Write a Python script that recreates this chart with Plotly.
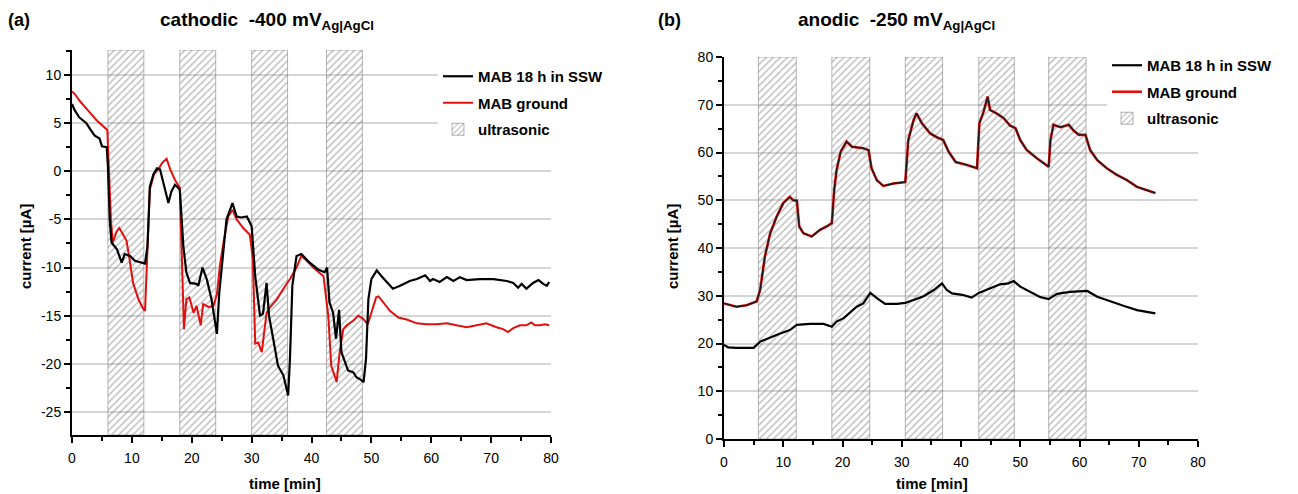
import plotly.graph_objects as go

# ---------------- data: panel (a) cathodic ----------------
t_a_ssw = [0, 0.4, 1.2, 2.4, 3.0, 3.8, 4.6, 5.0, 5.8, 6.0,
           6.3, 6.6, 7.5, 8.3, 8.8, 9.7, 10.5, 11.6, 12.2, 12.6,
           13.0, 13.6, 14.2, 14.7, 15.5, 16.1, 16.6, 17.2, 18.0, 18.6,
           19.1, 19.7, 20.8, 21.1, 21.8, 22.5, 23.3, 24.2, 24.6, 25.2,
           25.8, 26.8, 27.5, 28.3, 29.2, 30.0, 30.6, 31.4, 31.9, 32.5,
           32.9, 33.6, 34.4, 35.3, 36.1, 36.4, 36.8, 37.5, 38.3, 39.7,
           41.1, 42.2, 42.6, 43.0, 43.6, 44.1, 44.6, 45.0, 46.1, 47.0,
           47.5, 48.1, 48.7, 49.1, 49.5, 50.0, 50.9, 51.7, 52.8, 53.6,
           54.8, 56.4, 57.6, 59.0, 59.8, 60.3, 61.4, 62.6, 63.7, 64.8,
           65.9, 68.1, 70.4, 72.6, 73.7, 74.5, 75.1, 75.9, 77.0, 77.9,
           78.7, 79.3, 79.7]
i_a_ssw = [7.0, 6.4, 5.6, 5.0, 4.4, 3.7, 3.4, 2.6, 2.5, 0.5,
           -5.0, -7.4, -8.1, -9.5, -8.6, -8.8, -9.3, -9.5, -9.6, -7.8,
           -1.6, -0.3, 0.3, 0.2, -1.9, -3.3, -2.1, -1.4, -1.9, -7.8,
           -10.5, -11.6, -11.7, -11.9, -10.0, -11.2, -13.3, -16.9, -12.6, -8.4,
           -5.0, -3.3, -4.7, -4.8, -4.7, -5.7, -10.9, -15.0, -14.8, -11.6,
           -15.0, -17.4, -20.2, -21.2, -23.3, -19.5, -11.9, -8.8, -8.6, -9.5,
           -10.2, -10.5, -10.0, -13.6, -14.7, -17.4, -14.4, -18.8, -20.7, -20.9,
           -21.4, -21.6, -21.9, -19.5, -13.3, -11.2, -10.3, -10.9, -11.6, -12.2,
           -11.9, -11.4, -11.2, -10.8, -11.4, -11.2, -11.5, -11.0, -11.4, -11.0,
           -11.3, -11.2, -11.2, -11.4, -11.6, -12.1, -11.7, -12.2, -11.6, -11.3,
           -11.7, -11.9, -11.5]

t_a_ground = [0, 0.5, 1.3, 2.2, 3.0, 4.1, 5.2, 5.9, 6.1, 6.5,
              6.8, 7.5, 7.9, 8.6, 9.1, 9.6, 10.2, 11.1, 11.9, 12.2,
              12.5, 13.0, 13.7, 14.4, 15.1, 15.8, 16.4, 17.2, 18.0, 18.3,
              18.7, 19.1, 19.6, 20.3, 20.8, 21.5, 21.9, 22.8, 23.6, 24.2,
              24.7, 25.3, 26.1, 26.8, 27.5, 28.6, 29.7, 30.2, 30.6, 31.1,
              31.7, 32.1, 32.5, 33.1, 34.2, 35.3, 36.4, 37.5, 38.3, 39.2,
              40.3, 42.0, 42.8, 43.3, 44.2, 44.7, 45.3, 45.9, 47.0, 47.8,
              48.6, 49.4, 50.0, 50.8, 51.2, 52.0, 53.1, 54.5, 55.9, 57.6,
              59.2, 60.9, 62.6, 64.2, 65.9, 67.6, 69.2, 70.9, 72.0, 72.8,
              73.7, 74.8, 75.9, 76.7, 77.3, 78.1, 79.0, 79.7]
i_a_ground = [8.3, 8.0, 7.3, 6.7, 6.1, 5.3, 4.7, 4.3, 1.2, -5.0,
              -7.4, -6.2, -5.9, -6.7, -7.2, -9.1, -11.6, -13.3, -14.3, -14.5,
              -9.8, -1.9, -0.3, 0.2, 0.9, 1.3, 0.2, -0.9, -1.7, -9.1,
              -16.4, -13.3, -13.1, -14.7, -14.0, -16.0, -13.8, -14.1, -14.0, -12.8,
              -9.8, -7.4, -4.7, -4.0, -5.0, -5.9, -6.6, -9.1, -17.9, -17.8,
              -18.8, -16.7, -14.7, -14.1, -13.3, -12.2, -11.2, -10.0, -8.8, -9.3,
              -10.0, -10.9, -15.0, -20.2, -21.9, -18.8, -16.4, -16.0, -15.5, -15.0,
              -15.3, -15.9, -14.7, -13.1, -13.0, -13.6, -14.5, -15.2, -15.4, -15.8,
              -15.9, -15.9, -15.8, -16.0, -16.2, -16.0, -15.8, -16.2, -16.4, -16.7,
              -16.3, -16.0, -16.0, -15.7, -16.0, -16.0, -15.9, -16.0]

us_a_start = [6.0, 18.0, 30.0, 42.5]
us_a_end = [12.0, 24.0, 36.0, 48.5]

# ---------------- data: panel (b) anodic ----------------
t_b_ssw = [0, 0.7, 2.1, 5.0, 6.1, 7.8, 9.5, 11.1, 12.3, 14.5,
           16.8, 18.2, 19.0, 20.2, 21.3, 22.4, 23.5, 24.7, 25.8, 27.2,
           29.2, 30.6, 32.0, 33.7, 35.4, 36.8, 37.6, 38.5, 40.2, 41.8,
           43.0, 44.9, 46.6, 48.0, 48.9, 50.0, 51.7, 53.4, 54.8, 56.2,
           58.4, 61.3, 63.0, 65.2, 67.4, 69.7, 72.8]
i_b_ssw = [19.7, 19.2, 19.1, 19.1, 20.4, 21.3, 22.1, 22.8, 23.9, 24.1,
           24.1, 23.5, 24.6, 25.3, 26.5, 27.7, 28.4, 30.6, 29.5, 28.3,
           28.3, 28.5, 29.1, 29.9, 31.2, 32.6, 31.2, 30.5, 30.2, 29.6,
           30.6, 31.6, 32.4, 32.6, 33.1, 31.9, 30.8, 29.7, 29.3, 30.4,
           30.8, 31.0, 29.8, 28.8, 27.9, 27.0, 26.3]

t_b_ground = [0, 2.1, 3.8, 5.5, 6.1, 6.9, 7.8, 8.9, 10.0, 11.1,
              11.7, 12.3, 12.7, 13.4, 14.8, 16.2, 17.3, 18.2, 18.6, 19.0,
              19.7, 20.7, 21.6, 22.4, 23.5, 24.4, 24.9, 25.8, 26.9, 28.6,
              30.6, 31.1, 32.0, 32.5, 33.4, 34.8, 35.9, 37.0, 37.9, 39.1,
              41.0, 42.7, 43.1, 43.8, 44.5, 44.9, 46.0, 47.2, 48.3, 49.2,
              50.0, 51.1, 52.8, 54.8, 55.1, 55.6, 56.8, 58.2, 59.0, 59.9,
              61.0, 61.8, 63.0, 64.6, 66.3, 68.0, 69.7, 71.4, 72.8]
i_b_ground = [28.4, 27.7, 28.0, 28.8, 31.2, 38.2, 43.1, 46.6, 49.4, 50.7,
              50.0, 49.9, 44.5, 43.1, 42.4, 43.8, 44.5, 45.2, 52.1, 56.3,
              60.2, 62.3, 61.2, 61.1, 60.9, 60.5, 56.7, 54.2, 53.0, 53.5,
              53.8, 62.6, 66.8, 68.2, 66.1, 64.0, 63.2, 62.6, 60.2, 58.0,
              57.4, 56.7, 66.1, 68.5, 71.7, 68.9, 68.2, 67.2, 65.6, 65.1,
              62.6, 60.5, 58.8, 57.0, 62.6, 65.8, 65.3, 65.8, 64.6, 63.7,
              63.7, 60.5, 58.4, 56.7, 55.3, 54.2, 52.8, 52.1, 51.5]

us_b_start = [5.8, 18.2, 30.6, 43.0, 54.8]
us_b_end = [12.2, 24.6, 36.9, 49.0, 61.1]

# ---------------- labels / ranges ----------------
y_range_a = [-27.4, 12.6]
y_ticks_a = [-25, -20, -15, -10, -5, 0, 5, 10]
y_ticktext_a = ["-25", "-20", "-15", "-10", "-5", "0", "5", "10"]
y_range_b = [0, 80]
x_range = [0, 80]
name_ssw = "MAB 18 h in SSW"
name_ground = "MAB ground"
name_us = "ultrasonic"

# page has an 8 px body margin: figure is placed at (8, 8)
OFF = 8
W, H = 1298 - OFF, 494 - OFF
FONT = "Liberation Sans, Arial, sans-serif"
RED = "#e01010"


def px(x):
    return (x - OFF) / W


def py(y):
    return 1 - (y - OFF) / H


fig = go.Figure()


def band_trace(starts, ends, yr, xa, ya, leg):
    centers = [(s + e) / 2 for s, e in zip(starts, ends)]
    widths = [e - s for s, e in zip(starts, ends)]
    return go.Bar(
        x=centers, y=[yr[1] - yr[0]] * len(centers), base=[yr[0]] * len(centers),
        width=widths, xaxis=xa, yaxis=ya, name=name_us, legend=leg, legendrank=3,
        legendgroup="us",
        marker=dict(color="rgba(0,0,0,0)",
                    line=dict(color="rgba(130,130,130,0.6)", width=1),
                    pattern=dict(shape="/", fgcolor="#6a6a6a", bgcolor="rgba(0,0,0,0)",
                                 size=5, solidity=0.25, fillmode="overlay")),
        hoverinfo="skip")


# panel (a)
fig.add_trace(band_trace(us_a_start, us_a_end, y_range_a, "x", "y", "legend"))
fig.add_trace(go.Scatter(x=t_a_ground, y=i_a_ground, mode="lines", name=name_ground,
                         line=dict(color=RED, width=2), xaxis="x", yaxis="y",
                         legend="legend", legendrank=2, legendgroup="gr"))
fig.add_trace(go.Scatter(x=t_a_ssw, y=i_a_ssw, mode="lines", name=name_ssw,
                         line=dict(color="black", width=2.2), xaxis="x", yaxis="y",
                         legend="legend", legendrank=1, legendgroup="ssw"))

# panel (b)
fig.add_trace(band_trace(us_b_start, us_b_end, y_range_b, "x2", "y2", "legend2"))
fig.add_trace(go.Scatter(x=t_b_ground, y=i_b_ground, mode="lines", name=name_ground,
                         line=dict(color=RED, width=2.6), xaxis="x2", yaxis="y2",
                         legend="legend2", legendrank=2, legendgroup="gr"))
fig.add_trace(go.Scatter(x=t_b_ground, y=i_b_ground, mode="lines", name=name_ground,
                         line=dict(color="#1a1a1a", width=1.4), xaxis="x2", yaxis="y2",
                         showlegend=False, hoverinfo="skip", legendgroup="gr"))
fig.add_trace(go.Scatter(x=t_b_ssw, y=i_b_ssw, mode="lines", name=name_ssw,
                         line=dict(color="black", width=2.2), xaxis="x2", yaxis="y2",
                         legend="legend2", legendrank=1, legendgroup="ssw"))

tickfont = dict(family=FONT, size=14, color="black")


def xax(domain, anchor):
    return dict(domain=domain, anchor=anchor, range=x_range, showline=True,
                linecolor="black", linewidth=2, ticks="outside", ticklen=6,
                tickwidth=2, tickcolor="black", tick0=0, dtick=10,
                minor=dict(ticks="outside", dtick=5, ticklen=4, tickwidth=1.5,
                           tickcolor="black"),
                showgrid=False, zeroline=False, tickfont=tickfont,
                ticklabelstandoff=3, automargin=False)


def yax(domain, anchor, rng, mdtick, dtick=None, tickvals=None, ticktext=None):
    d = dict(domain=domain, anchor=anchor, range=rng, showline=True,
             linecolor="black", linewidth=2, ticks="outside", ticklen=6,
             tickwidth=2, tickcolor="black",
             minor=dict(ticks="outside", tickmode="linear", tick0=0, dtick=mdtick,
                        ticklen=4, tickwidth=1.5, tickcolor="black", showgrid=False),
             showgrid=True, gridcolor="#d6d6d6", gridwidth=1.5,
             zeroline=False, tickfont=tickfont, ticklabelstandoff=0,
             automargin=False)
    if tickvals is not None:
        d.update(tickmode="array", tickvals=tickvals, ticktext=ticktext)
    else:
        d.update(tick0=0, dtick=dtick)
    return d


legfont = dict(family=FONT, size=15, color="black", weight="bold")

ann = []


def text(x, y, s, size, xanchor="left", yanchor="middle", angle=0, bold=True):
    ann.append(dict(x=px(x), y=py(y), xref="paper", yref="paper", text=s,
                    showarrow=False, xanchor=xanchor, yanchor=yanchor, textangle=angle,
                    font=dict(family=FONT, size=size, color="black",
                              weight="bold" if bold else "normal")))


text(6, 20, "(a)", 18)
text(158, 21, "cathodic&nbsp; -400 mV<sub>Ag|AgCl</sub>", 19)
text(656, 20, "(b)", 18)
text(796, 21, "anodic&nbsp; -250 mV<sub>Ag|AgCl</sub>", 19)
text(285, 483, "time [min]", 15, xanchor="center")
text(932, 483, "time [min]", 15, xanchor="center")
text(25, 247, "current [µA]", 15, xanchor="center", angle=-90)
text(672, 247, "current [µA]", 15, xanchor="center", angle=-90)

leg_common = dict(xanchor="left", yanchor="top", bgcolor="white", font=legfont,
                  traceorder="grouped", tracegroupgap=4, borderwidth=0)

fig.update_layout(
    template="none",
    width=W, height=H, margin=dict(l=0, r=0, t=0, b=0, pad=0, autoexpand=False),
    paper_bgcolor="white", plot_bgcolor="white", barmode="overlay",
    xaxis=xax([px(72), px(551)], "y"),
    yaxis=yax([py(435), py(50)], "x", y_range_a, 2.5,
              tickvals=y_ticks_a, ticktext=y_ticktext_a),
    xaxis2=xax([px(724), px(1198)], "y2"),
    yaxis2=yax([py(439), py(57)], "x2", y_range_b, 5, dtick=10),
    legend=dict(x=px(438), y=py(60), **leg_common),
    legend2=dict(x=px(1107), y=py(49), **leg_common),
    annotations=ann,
    showlegend=True,
)

fig.write_html("out.html")
